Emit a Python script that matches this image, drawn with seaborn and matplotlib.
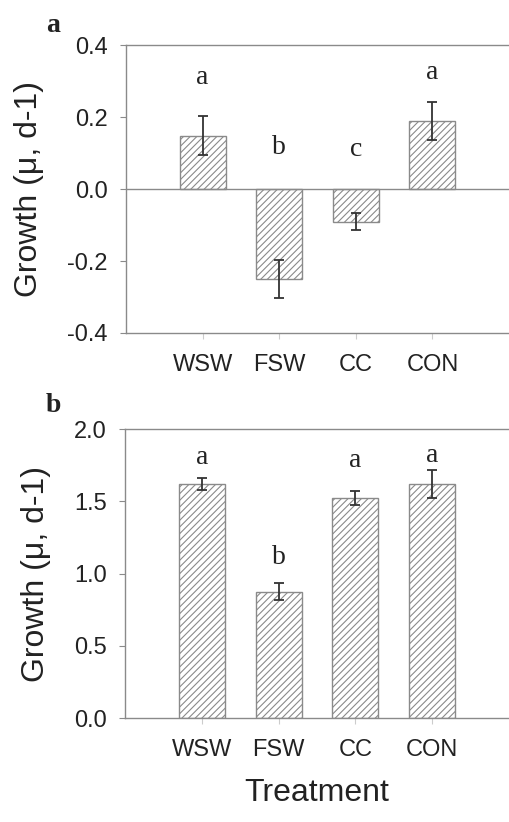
import matplotlib
matplotlib.use("Agg")
import matplotlib.pyplot as plt
import seaborn as sns
import pandas as pd

# ---- data ----
treatments = ["WSW", "FSW", "CC", "CON"]
growth_a = [0.148, -0.251, -0.091, 0.190]
err_a = [0.054, 0.053, 0.023, 0.053]
letters_a = ["a", "b", "c", "a"]
letter_y_a = [0.31, 0.115, 0.11, 0.325]

growth_b = [1.62, 0.875, 1.522, 1.62]
err_b = [0.042, 0.06, 0.046, 0.10]
letters_b = ["a", "b", "a", "a"]
letter_y_b = [1.80, 1.11, 1.78, 1.82]

yticks_a = [-0.4, -0.2, 0.0, 0.2, 0.4]
yticks_b = [0.0, 0.5, 1.0, 1.5, 2.0]

sns.set_theme(style="white")
plt.rcParams["font.family"] = ["Liberation Sans", "DejaVu Sans"]
plt.rcParams["hatch.linewidth"] = 0.8

GRAY = "#8a8a8a"
DARK = "#333333"
TXT = "#222222"

fig = plt.figure(figsize=(5.09, 8.22), dpi=100)
ax_a = fig.add_axes([0.2475, 0.5949, 0.7525, 0.3503])
ax_b = fig.add_axes([0.2456, 0.1265, 0.7544, 0.3515])


def panel(ax, vals, errs, letters, ly, yticks, ylim, zero_line):
    df = pd.DataFrame({"Treatment": treatments, "Growth": vals})
    sns.barplot(data=df, x="Treatment", y="Growth", color="white",
                edgecolor=GRAY, linewidth=1.0, width=0.6, errorbar=None,
                ax=ax, order=treatments)
    for p in ax.patches:
        p.set_hatch("/////")
        p.set_facecolor("white")
        p.set_edgecolor(GRAY)
    xs = list(range(len(treatments)))
    ax.errorbar(xs, vals, yerr=errs, fmt="none", ecolor=DARK,
                elinewidth=1.3, capsize=3.5, capthick=1.3, zorder=5)
    for x, l, y in zip(xs, letters, ly):
        ax.text(x, y, l, ha="center", va="center", fontsize=20,
                family="Liberation Serif", color=TXT)
    if zero_line:
        ax.axhline(0, color=GRAY, lw=1.0, zorder=1)
    ax.set_xlim(-1, 4)
    ax.set_ylim(*ylim)
    ax.set_yticks(yticks)
    ax.set_yticklabels([f"{t:.1f}" for t in yticks])
    for s in ["top", "left", "bottom"]:
        ax.spines[s].set_visible(True)
        ax.spines[s].set_color(GRAY)
        ax.spines[s].set_linewidth(1.0)
    ax.spines["right"].set_visible(False)
    ax.tick_params(axis="x", bottom=True, length=4, width=0.8, color="#cccccc",
                   labelsize=17, labelcolor=TXT, pad=11)
    ax.tick_params(axis="y", left=True, length=4, width=0.8, color=GRAY,
                   labelsize=17, labelcolor=TXT, pad=9)
    ax.set_ylabel("Growth (μ, d-1)", fontsize=23, color=TXT, labelpad=17)
    ax.set_xlabel("")


panel(ax_a, growth_a, err_a, letters_a, letter_y_a, yticks_a, (-0.4, 0.4), True)
panel(ax_b, growth_b, err_b, letters_b, letter_y_b, yticks_b, (0.0, 2.0), False)

ax_b.set_xlabel("Treatment", fontsize=23, color=TXT, labelpad=12)

fig.text(53 / 509, 1 - 25 / 822, "a", fontsize=20, fontweight="bold",
         family="Liberation Serif", ha="center", va="center", color=TXT)
fig.text(53 / 509, 1 - 405 / 822, "b", fontsize=20, fontweight="bold",
         family="Liberation Serif", ha="center", va="center", color=TXT)

fig.savefig("out.png", dpi=100, facecolor="white")
